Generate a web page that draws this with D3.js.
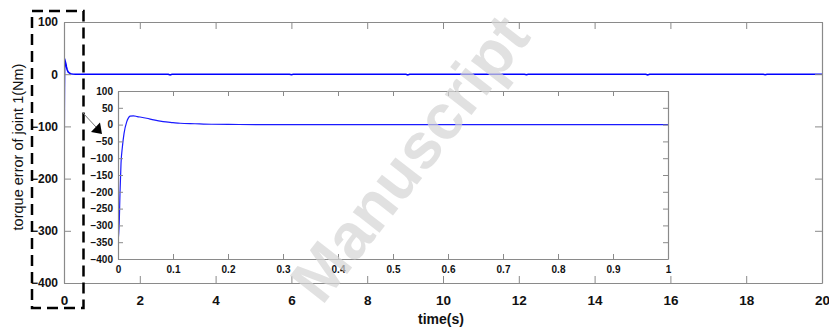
<!DOCTYPE html>
<html>
<head>
<meta charset="utf-8">
<script src="https://cdn.jsdelivr.net/npm/d3@7"></script>
<style>
  html, body { margin: 0; padding: 0; background: #fff; }
  svg { display: block; font-family: "Liberation Sans", Arial, sans-serif; }
</style>
</head>
<body>
<svg id="chart" width="829" height="329"></svg>
<script>
// Joint 1 torque error over the simulation run (time in s, error in Nm)
const timeS = [0, 0.0024, 0.0036, 0.0055, 0.008, 0.011, 0.0158, 0.019, 0.022, 0.028,
  0.035, 0.052, 0.065, 0.082, 0.1, 0.113, 0.14, 0.17, 0.22, 0.3, 1, 2,
  2.75, 2.8, 2.85, 5.95, 6.0, 6.05, 9.02, 9.07, 9.12, 12.15, 12.2, 12.25,
  15.35, 15.4, 15.45, 18.45, 18.5, 18.55, 20];
const torqueErr = [-348, -284, -204, -115, -66, -26, 8, 20, 25, 26,
  24, 19, 14, 9, 6, 4, 2.5, 1, 0.3, 0, 0, 0,
  0, -1.5, 0, 0, -1, 0, 0, -1.5, 0, 0, -1, 0,
  0, -1.5, 0, 0, -1, 0, 0];

// Axis ticks
const mainXTicks = [0, 2, 4, 6, 8, 10, 12, 14, 16, 18, 20];
const mainYTicks = [100, 0, -100, -200, -300, -400];
const zoomXTicks = [0, 0.1, 0.2, 0.3, 0.4, 0.5, 0.6, 0.7, 0.8, 0.9, 1];
const zoomYTicks = [100, 50, 0, -50, -100, -150, -200, -250, -300, -350, -400];

const xLabel = "time(s)";
const yLabel = "torque error of joint 1(Nm)";
const watermark = "Manuscript";

const points = timeS.map((t, i) => ({ t, v: torqueErr[i] }));
const svg = d3.select("#chart");
const axisColor = "#8a8a8a";

function styleAxis(g, fontSize) {
  g.select(".domain").attr("stroke", axisColor).attr("stroke-width", 1.2);
  g.selectAll(".tick line").attr("stroke", axisColor).attr("stroke-width", 1);
  g.selectAll(".tick text")
    .attr("fill", "#111")
    .attr("font-size", fontSize)
    .attr("font-weight", "bold")
    .attr("font-family", "'Liberation Sans', Arial, sans-serif");
}

// ---- main axes ----
const M = { l: 64, r: 822, t: 22, b: 283 };
const x = d3.scaleLinear().domain([0, 20]).range([M.l, M.r]);
const y = d3.scaleLinear().domain([-400, 100]).range([M.b, M.t]);

svg.append("clipPath").attr("id", "clipMain")
  .append("rect").attr("x", M.l).attr("y", M.t).attr("width", M.r - M.l).attr("height", M.b - M.t);

const line = (sx, sy) => d3.line().x(d => sx(d.t)).y(d => sy(d.v));

svg.append("path")
  .datum(points)
  .attr("clip-path", "url(#clipMain)")
  .attr("fill", "none")
  .attr("stroke", "#0000ff")
  .attr("stroke-width", 1.6)
  .attr("d", line(x, y));

svg.append("g").attr("transform", `translate(0,${M.b})`)
  .call(d3.axisBottom(x).tickValues(mainXTicks).tickFormat(d3.format("d"))
    .tickSizeInner(-7).tickSizeOuter(0).tickPadding(12))
  .call(g => styleAxis(g, 13.5));
svg.append("g").attr("transform", `translate(0,${M.t})`)
  .call(d3.axisTop(x).tickValues(mainXTicks).tickFormat("")
    .tickSizeInner(-7).tickSizeOuter(0))
  .call(g => styleAxis(g, 0));
svg.append("g").attr("transform", `translate(${M.l},0)`)
  .call(d3.axisLeft(y).tickValues(mainYTicks).tickFormat(d3.format("d"))
    .tickSizeInner(-7).tickSizeOuter(0).tickPadding(6))
  .call(g => styleAxis(g, 12));
svg.append("g").attr("transform", `translate(${M.r},0)`)
  .call(d3.axisRight(y).tickValues(mainYTicks).tickFormat("")
    .tickSizeInner(-7).tickSizeOuter(0))
  .call(g => styleAxis(g, 0));

svg.append("text")
  .attr("x", 441).attr("y", 324)
  .attr("text-anchor", "middle")
  .attr("font-size", 14).attr("font-weight", "bold").attr("fill", "#111")
  .text(xLabel);

svg.append("text")
  .attr("transform", "translate(23,147) rotate(-90)")
  .attr("text-anchor", "middle")
  .attr("font-size", 14.5).attr("fill", "#111")
  .text(yLabel);

// ---- zoomed-in inset over the first second ----
const Z = { l: 118, r: 668, t: 91, b: 259 };
const zx = d3.scaleLinear().domain([0, 1]).range([Z.l, Z.r]);
const zy = d3.scaleLinear().domain([-400, 100]).range([Z.b, Z.t]);

svg.append("rect")
  .attr("x", Z.l).attr("y", Z.t).attr("width", Z.r - Z.l).attr("height", Z.b - Z.t)
  .attr("fill", "#fff");

svg.append("clipPath").attr("id", "clipZoom")
  .append("rect").attr("x", Z.l).attr("y", Z.t).attr("width", Z.r - Z.l).attr("height", Z.b - Z.t);

svg.append("path")
  .datum(points.filter(d => d.t <= 1))
  .attr("clip-path", "url(#clipZoom)")
  .attr("fill", "none")
  .attr("stroke", "#1a1aff")
  .attr("stroke-width", 1.2)
  .attr("d", line(zx, zy).curve(d3.curveMonotoneX));

svg.append("g").attr("transform", `translate(0,${Z.b})`)
  .call(d3.axisBottom(zx).tickValues(zoomXTicks).tickFormat(d => d === 0 || d === 1 ? d3.format("d")(d) : d3.format(".1f")(d))
    .tickSizeInner(-5).tickSizeOuter(0).tickPadding(7))
  .call(g => styleAxis(g, 10));
svg.append("g").attr("transform", `translate(0,${Z.t})`)
  .call(d3.axisTop(zx).tickValues(zoomXTicks).tickFormat("")
    .tickSizeInner(-5).tickSizeOuter(0))
  .call(g => styleAxis(g, 0));
svg.append("g").attr("transform", `translate(${Z.l},0)`)
  .call(d3.axisLeft(zy).tickValues(zoomYTicks).tickFormat(d3.format("d"))
    .tickSizeInner(-5).tickSizeOuter(0).tickPadding(5))
  .call(g => styleAxis(g, 10));
svg.append("g").attr("transform", `translate(${Z.r},0)`)
  .call(d3.axisRight(zy).tickValues(zoomYTicks).tickFormat("")
    .tickSizeInner(-5).tickSizeOuter(0))
  .call(g => styleAxis(g, 0));

// ---- dashed box around the transient and arrow to the inset ----
svg.append("rect")
  .attr("x", 32).attr("y", 11).attr("width", 51.5).attr("height", 297)
  .attr("fill", "none").attr("stroke", "#000")
  .attr("stroke-width", 2.5).attr("stroke-dasharray", "11,6");

svg.append("line")
  .attr("x1", 83).attr("y1", 113).attr("x2", 96).attr("y2", 127)
  .attr("stroke", "#777").attr("stroke-width", 1);
svg.append("path")
  .attr("d", "M91,132 L100,122.5 L102,134 Z")
  .attr("fill", "#000");

// ---- watermark ----
svg.append("text")
  .attr("transform", "translate(412,160) rotate(-52)")
  .attr("text-anchor", "middle")
  .attr("dy", "0.3em")
  .attr("font-size", 64).attr("font-weight", "bold")
  .attr("fill", "#d4d4d4").attr("fill-opacity", 0.7)
  .text(watermark);
</script>
</body>
</html>
